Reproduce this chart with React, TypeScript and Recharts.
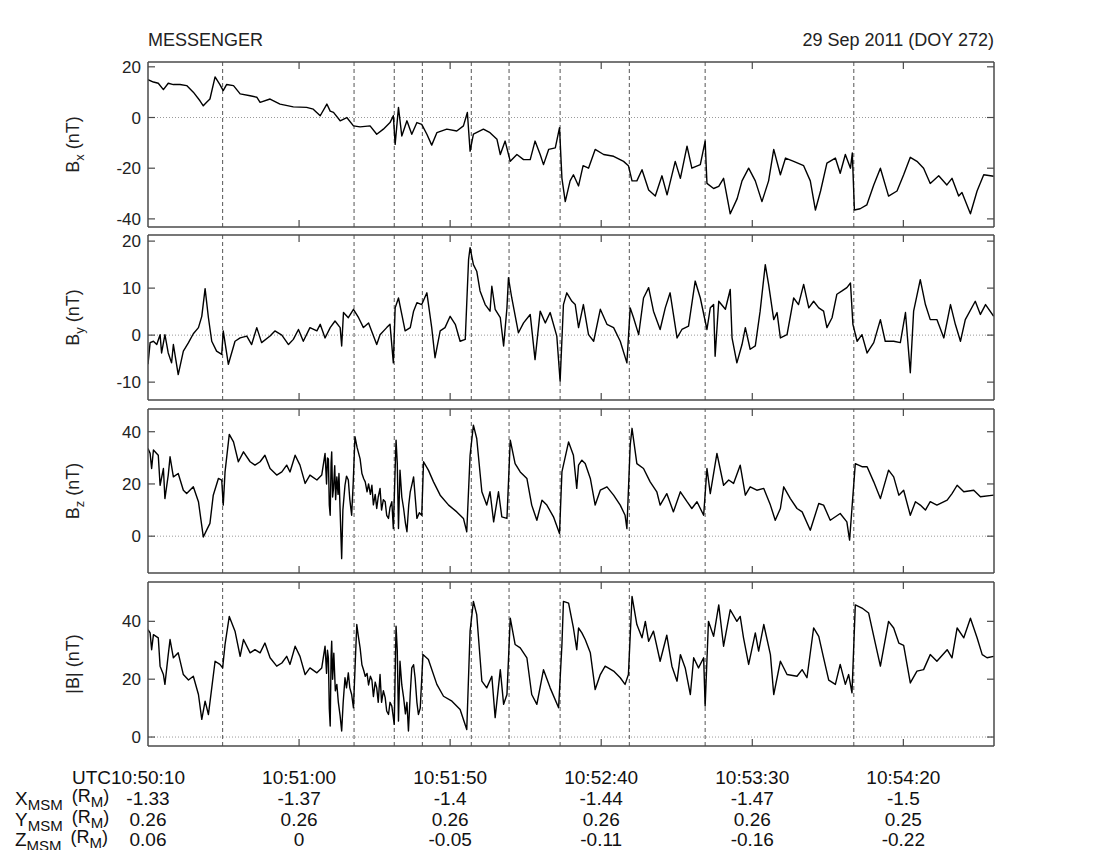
import React from 'react';
import { LineChart, Line, XAxis, YAxis, ReferenceLine } from 'recharts';

// [seconds after 10:50:10 UTC, nT]
const bxSamples = [
  [0, 14.9], [1.8, 14], [3.4, 13.5], [5.1, 11], [6.7, 13.5], [8.4, 13], [10.6, 13], [12.8, 12.6], [15.0, 10], [17.2, 6.6],
  [18.3, 4.6], [19.4, 6], [20.5, 7.3], [22.2, 16], [23.8, 13], [24.9, 10.6], [26.0, 13], [28.3, 12.6], [30.5, 9.3], [33.8, 8.6],
  [36.0, 8], [37.1, 6], [40.4, 7.3], [43.7, 5.3], [48.1, 4.2], [52.5, 4], [54.7, 3.3], [57.0, 0.7], [59.2, 5.3], [60.3, 2.5],
  [61.4, 2], [63.6, -1.3], [65.8, 0], [68.0, -3.3], [70.2, -3.7], [73.5, -3.3], [75.7, -6.6], [77.9, -4.6], [80.1, -2], [81.2, 0.7],
  [81.8, -10.6], [82.9, 4], [84.0, -7.3], [85.7, -1.3], [87.3, -6.6], [89.0, -2], [90.6, -2.7], [92.3, -6.6], [93.9, -10.9], [95.6, -6],
  [98.9, -4.6], [102.2, -5.3], [104.4, -3.3], [105.7, 2], [106.6, -13.3], [107.7, -6.6], [111.0, -4.6], [113.2, -6], [115.5, -8.6], [116.6, -14.6],
  [118.2, -9.3], [119.9, -17.3], [122.1, -14.6], [124.3, -16.6], [126.5, -16.6], [128.1, -9.3], [129.8, -14.6], [130.9, -18.6], [132.6, -12.6], [134.8, -12],
  [136.2, -4], [137.0, -24], [138.1, -33.2], [139.7, -25], [140.8, -22.6], [142.5, -27], [144.0, -19], [145.8, -20], [148.0, -12.6], [150.8, -14.6],
  [154.1, -15.3], [157.4, -17.3], [159.0, -19], [160.2, -25], [161.8, -25], [163.5, -20.6], [165.7, -28.6], [167.9, -31], [170.1, -23], [171.8, -30.5],
  [174.5, -17.3], [176.2, -24], [178.4, -11.3], [180.0, -20], [182.8, -18.6], [184.4, -9.3], [185.0, -26], [187.2, -28], [188.9, -27.2], [190.5, -24],
  [192.7, -38], [195.0, -32], [196.6, -25], [198.8, -20], [201.0, -25], [203.2, -33.2], [205.4, -25], [207.1, -12.6], [209.3, -22.6], [211.0, -16],
  [213.7, -17.3], [217.0, -19], [219.2, -25], [220.9, -36.5], [222.6, -29], [224.7, -18], [227.5, -16], [229.1, -22], [230.8, -14.6], [232.5, -20],
  [233.1, -14], [233.8, -36.5], [235.7, -36], [237.9, -34.5], [240.2, -26.6], [242.4, -20], [245.1, -31], [247.9, -29], [250.1, -22.6], [252.3, -15.7],
  [254.5, -17.3], [256.7, -20], [258.9, -26], [261.7, -23], [264.4, -26.6], [266.1, -24], [268.3, -31], [269.4, -29.6], [272.2, -38], [274.4, -29],
  [276.6, -22.6], [279.9, -23.2],
];

const bySamples = [
  [0, -6.2], [0.7, -1.6], [1.8, -1.3], [2.9, -2], [4.0, 0.1], [4.5, -3.8], [5.6, 0.1], [6.7, -3.8], [7.8, -5.9], [8.4, -2],
  [10.0, -8.4], [11.7, -3.4], [13.4, -1.6], [15.0, 0.3], [16.7, 1.6], [17.8, 4], [18.9, 9.9], [20.0, 3.7], [21.1, -1.3], [22.7, -3.4],
  [24.4, -4.1], [24.9, 0.9], [26.6, -6.2], [28.8, -1.3], [30.5, -0.6], [32.7, -0.2], [34.3, -2], [36.0, 1.6], [37.6, -1.6], [40.4, -0.2],
  [42.0, 0.9], [44.3, 0], [46.5, -2], [48.1, -0.9], [49.8, 1.2], [51.4, -1.3], [53.6, 1.6], [55.9, 0.9], [57.0, 2.3], [58.6, -0.6],
  [60.3, 1.6], [61.9, 3], [63.6, 1.6], [64.1, -2.3], [64.7, 4.8], [66.3, 3.7], [68.0, 5.5], [69.7, 3.7], [71.3, 1.6], [73.0, 2.6],
  [75.7, -2], [76.8, 0.1], [79.0, 1.6], [80.1, 2.3], [81.2, -5.9], [81.8, 5.8], [82.9, 7.9], [84.0, 4.4], [85.1, 0.9], [86.8, 1.6],
  [87.9, 5.1], [89.0, 6.9], [90.6, 6.5], [92.3, 9], [93.9, 1.6], [95.0, -4.8], [96.7, 0.9], [98.3, 1.6], [100.0, 4], [101.7, 2.3],
  [103.3, -1.3], [105.0, -0.9], [106.1, 16.1], [106.6, 18.6], [107.7, 15], [108.8, 13.6], [109.9, 9.4], [111.6, 6.5], [113.2, 5.1], [113.8, 10.4],
  [114.9, 5.5], [116.6, 3.7], [117.7, -2.3], [118.8, 5.8], [119.3, 12.2], [120.4, 7.9], [122.6, 0.5], [124.3, 2.6], [126.5, 4.4], [128.1, -5.2],
  [129.8, 5.1], [131.5, 2.6], [133.1, 4.8], [135.3, -0.2], [136.4, -9.8], [137.5, 6.5], [138.6, 9], [140.3, 7.2], [141.4, 6.5], [142.5, 1.6],
  [144.1, 6.5], [145.8, 0.1], [147.5, -1.3], [149.7, 5.5], [151.9, 2.3], [154.1, 1.6], [156.3, -1.3], [158.5, -5.9], [159.6, 5.8], [160.7, 3.7],
  [162.4, 0.1], [164.0, 7.9], [165.7, 10.1], [167.3, 5.1], [169.5, 1.2], [171.2, 5.8], [172.8, 9], [175.1, -0.6], [176.7, 1.2], [178.9, 1.9],
  [181.1, 11.5], [182.8, 7.9], [185.0, 1.2], [186.1, 5.8], [187.2, 6.5], [187.7, -4.5], [188.9, 7.2], [191.1, 5.5], [192.7, 9.7], [193.3, -0.6],
  [194.9, -5.9], [196.6, -2], [197.7, 1.6], [199.3, -3], [201.0, -2.3], [202.6, 5.1], [204.3, 15], [205.4, 10.8], [207.1, 3.3], [208.2, 4.8],
  [209.3, -0.6], [211.5, 0.1], [212.6, 4], [213.7, 7.9], [215.3, 6.5], [217.0, 10.8], [218.7, 5.8], [220.3, 7.2], [222.0, 5.8], [223.6, 5.1],
  [224.7, 1.6], [226.4, 3.7], [228.0, 8.7], [229.7, 9.4], [231.3, 10.1], [232.5, 11.1], [233.3, 2.3], [234.7, -1.3], [236.3, 0.1], [238.0, -3.8],
  [240.2, -1.6], [242.4, 3.3], [244.0, -1.3], [246.8, -1.3], [249.0, -1.6], [250.7, 4.8], [252.3, -8], [253.4, 5.1], [255.6, 11.8], [257.3, 6.5],
  [258.9, 3.3], [261.1, 3.3], [263.4, -0.6], [265.6, 6.5], [267.2, 2.3], [268.9, -1.3], [270.5, 3.3], [273.8, 7.2], [275.5, 4.4], [277.2, 6.5],
  [279.9, 4],
];

const bzSamples = [
  [0, 33.6], [0.7, 31.7], [1.2, 25.9], [1.8, 33], [3.4, 31], [4.0, 19.5], [5.1, 25.9], [5.6, 14.4], [6.7, 23.4], [7.3, 30.4],
  [8.4, 22.7], [10.0, 24], [11.7, 17.6], [12.8, 16.3], [15.0, 18.9], [16.7, 13.2], [18.3, -0.3], [19.4, 2.3], [20.5, 4.9], [21.6, 15.7],
  [23.3, 22.1], [24.4, 21.5], [24.9, 11.9], [25.5, 24.6], [26.9, 39], [28.3, 36.1], [29.9, 28.5], [31.6, 32.3], [33.8, 28.5], [35.4, 27.2],
  [37.1, 28.5], [38.7, 31], [40.4, 25.9], [42.6, 23.4], [44.3, 24.6], [45.9, 27.2], [47.0, 24.6], [48.7, 31], [50.3, 27.2], [52.0, 20.2],
  [53.6, 23.4], [55.9, 21.5], [57.5, 23.4], [58.6, 31.7], [59.1, 20], [59.4, 30], [59.7, 29.6], [60.0, 12], [60.3, 8], [60.6, 28],
  [60.8, 32.3], [61.1, 15], [61.4, 18.3], [61.8, 27], [62.1, 14], [62.5, 22.7], [62.9, 16], [63.2, 24], [63.6, 9.3], [64.1, -8.6],
  [64.5, 10], [65.2, 19.5], [65.7, 23], [66.3, 21.5], [66.8, 14], [67.4, 8], [67.9, 20], [68.5, 38.1], [69.2, 34], [70.2, 29.6],
  [70.8, 24], [71.4, 22], [71.9, 20.8], [72.5, 17], [73.0, 20], [73.6, 16], [74.1, 19.5], [74.6, 12], [75.2, 16], [75.7, 10.6],
  [76.2, 15], [76.8, 18.3], [77.3, 10], [77.9, 14], [78.5, 13.2], [79.0, 8], [79.6, 6.8], [80.1, 11], [80.7, 13.2], [81.2, 2.9],
  [82.1, 36.8], [82.5, 28], [82.9, 2.9], [83.4, 25.3], [84.0, 15], [84.6, 10.6], [85.2, 5], [85.7, 1.7], [86.3, 12], [86.8, 17],
  [87.4, 20], [87.9, 22.7], [88.5, 14], [89.0, 6.8], [89.8, 9], [90.6, 8], [91.2, 28.5], [92.8, 25.3], [94.5, 20.8], [96.7, 15.7],
  [99.5, 11.9], [102.2, 9.3], [104.4, 6.8], [105.5, 1.7], [106.6, 31], [107.7, 42.5], [108.8, 37.4], [110.5, 17], [112.1, 11.9], [113.2, 17],
  [114.4, 5.5], [116.0, 17], [117.1, 7.4], [118.8, 6.8], [119.9, 36.8], [121.5, 27.8], [123.2, 24.6], [125.4, 22.1], [127.0, 11.9], [128.7, 6.1],
  [130.4, 13.8], [132.0, 11.9], [134.2, 7.4], [136.2, 1], [137.0, 24.6], [139.2, 36.1], [140.8, 31], [141.9, 18.3], [142.5, 27.2], [143.6, 29.1],
  [144.7, 27.8], [146.4, 22.1], [148.0, 11.9], [149.7, 17.6], [151.9, 18.9], [154.1, 15.7], [156.3, 11.9], [157.9, 8], [158.5, 2.9], [159.6, 34.9],
  [160.2, 41.3], [161.8, 27.8], [164.0, 25.9], [166.2, 20.8], [168.4, 17], [169.5, 11.9], [171.7, 16.3], [173.9, 9.3], [176.2, 17], [178.4, 13.2],
  [180.0, 10.6], [181.7, 13.2], [183.9, 8], [185.0, 25.9], [186.1, 16.3], [188.3, 31.7], [190.5, 19.5], [192.2, 21.5], [193.8, 20.2], [196.0, 27.2],
  [197.7, 15.7], [199.3, 18.9], [201.5, 17.6], [203.8, 18.3], [206.0, 11.9], [207.6, 6.1], [209.3, 10.6], [210.4, 18.9], [212.6, 14.4], [214.8, 10.6],
  [216.5, 9.3], [219.2, 2.3], [222.0, 12.5], [223.6, 11.9], [225.8, 6.1], [229.1, 8.7], [231.3, 5.5], [232.2, -1.5], [234.1, 27.8], [236.3, 26.6],
  [238.0, 26.6], [240.2, 20.8], [242.4, 14.4], [245.1, 25.3], [246.8, 22.7], [248.5, 15.7], [250.1, 17.6], [252.3, 8], [254.0, 13.2], [255.6, 11.9],
  [257.3, 10], [258.9, 13.2], [261.1, 11.9], [264.5, 13.8], [266.1, 16.3], [267.8, 19.5], [270.0, 17], [273.3, 17.6], [275.5, 15.1], [279.9, 15.7],
];

const bmagSamples = [
  [0, 37.1], [0.7, 36], [1.2, 30.2], [1.8, 35.4], [3.4, 34.3], [4.0, 24.5], [5.1, 21.6], [5.6, 18.2], [6.7, 28.5], [7.3, 33.7],
  [8.4, 27.4], [10.0, 29.1], [11.7, 21.6], [13.4, 19.7], [15.0, 21], [16.7, 14.7], [17.8, 6.1], [18.9, 12.4], [20.0, 7.8], [21.1, 17],
  [22.2, 26.2], [23.8, 25.1], [24.7, 23.9], [25.5, 32], [26.9, 41.7], [28.8, 36.6], [30.5, 27.9], [31.6, 33.7], [33.8, 29.1], [35.4, 30.2],
  [37.1, 29.1], [38.7, 32.5], [40.4, 27.4], [42.6, 24.5], [44.3, 25.6], [45.9, 27.9], [47.0, 25.1], [48.7, 31.4], [50.3, 27.9], [52.0, 21.6],
  [53.6, 23.9], [55.9, 22.2], [57.5, 23.9], [58.6, 31.4], [59.1, 22], [59.4, 30], [59.7, 27.4], [60.0, 10], [60.3, 3.8], [60.6, 28],
  [60.8, 33.1], [61.1, 20], [61.5, 29], [62.0, 16], [62.5, 18.2], [63.0, 12], [63.6, 7.2], [64.1, 2.1], [64.6, 12], [65.2, 20.5],
  [65.7, 17], [66.3, 22.2], [66.8, 17], [67.4, 14.7], [68.0, 10.1], [69.1, 38.9], [69.6, 35], [70.2, 30.8], [70.8, 25], [71.4, 23],
  [71.9, 21], [72.5, 22], [73.0, 18], [73.6, 21], [74.1, 19.7], [74.6, 14], [75.2, 19], [75.7, 17], [76.2, 12], [76.8, 21.6],
  [77.3, 12], [77.9, 16], [78.5, 13.6], [79.0, 9], [79.6, 7.8], [80.1, 12], [80.7, 10.7], [81.5, 4.4], [82.1, 38.3], [82.5, 30],
  [82.9, 5.5], [83.4, 26.2], [84.0, 18], [84.6, 13.6], [85.2, 8], [85.7, 12], [86.2, 2.1], [86.8, 15], [87.3, 23.9], [87.9, 25],
  [88.4, 20.5], [89.0, 12], [89.5, 7.8], [90.1, 10], [91.0, 28.5], [92.8, 26.8], [95.6, 18.2], [97.8, 14.1], [100.6, 12.4], [103.3, 9.5],
  [105.5, 2.6], [106.6, 36.6], [107.7, 46.9], [108.8, 42.3], [110.5, 19.3], [112.1, 17], [113.8, 21], [114.9, 6.7], [116.6, 23.3], [117.7, 11.3],
  [118.8, 14.7], [119.9, 41.1], [121.5, 32], [123.2, 30.8], [125.4, 27.4], [127.0, 14.7], [128.7, 11.3], [130.9, 23.3], [133.1, 17], [135.9, 10.1],
  [137.0, 32], [137.5, 46.9], [139.2, 46.3], [140.8, 37.7], [141.9, 30.2], [142.5, 37.7], [143.6, 36], [144.7, 33.7], [146.4, 29.1], [148.0, 16.4],
  [149.7, 21.6], [151.3, 24.5], [154.1, 22.8], [156.3, 20.5], [157.9, 18.2], [159.0, 21.6], [160.2, 48.6], [161.8, 38.9], [163.5, 34.3], [164.6, 40],
  [165.7, 33.1], [167.3, 36.6], [169.5, 26.2], [171.7, 35.2], [173.4, 24.5], [175.1, 19.3], [176.2, 28.5], [177.8, 23.9], [179.5, 14.7], [180.6, 27.4],
  [182.2, 23.9], [183.9, 27.4], [184.4, 10.7], [185.5, 40], [187.2, 34.8], [188.9, 45.7], [190.5, 31.4], [192.7, 44], [194.9, 40], [196.0, 41.7],
  [197.1, 34.3], [198.8, 25.1], [201.0, 36], [202.1, 29.7], [203.8, 38.9], [206.0, 28.5], [207.1, 14.7], [209.3, 26.2], [211.5, 21.6], [214.8, 21],
  [216.5, 23.3], [218.1, 20.5], [220.3, 37.7], [222.0, 34.8], [223.6, 27.4], [225.3, 19.7], [227.5, 18.2], [229.1, 25.1], [230.8, 18.2], [231.9, 21.6],
  [233.0, 15.3], [234.1, 45.7], [236.3, 44.6], [238.5, 42.9], [240.7, 32.5], [242.4, 24.5], [245.1, 40], [246.8, 37.7], [248.5, 32.5], [250.1, 31.7],
  [252.3, 18.7], [254.5, 22.8], [256.7, 23.3], [258.9, 28.5], [261.1, 26.2], [264.5, 30.2], [266.1, 27.4], [267.8, 37.7], [270.0, 34.3], [272.2, 41.1],
  [274.4, 34.3], [276.1, 28.5], [277.7, 27.4], [279.9, 27.9],
];

// boundary crossings marked on every panel (s after 10:50:10)
const boundaryTimes = [24.7, 68.2, 81.5, 90.8, 107.0, 119.5, 136.4, 159.3, 184.4, 233.6];

const tickTimes = [0, 50, 100, 150, 200, 250];
const utcLabels = ['10:50:10', '10:51:00', '10:51:50', '10:52:40', '10:53:30', '10:54:20'];
const xMsm = ['-1.33', '-1.37', '-1.4', '-1.44', '-1.47', '-1.5'];
const yMsm = ['0.26', '0.26', '0.26', '0.26', '0.26', '0.25'];
const zMsm = ['0.06', '0', '-0.05', '-0.11', '-0.16', '-0.22'];

const W = 1118;
const T_END = 280;
const PLOT_LEFT = 148;
const PLOT_RIGHT = 994;
const FONT = '"Liberation Sans", Arial, Helvetica, sans-serif';
const FRAME = '#4a4a4a';
const frameLine = { stroke: FRAME, strokeWidth: 1.5 };

const toRows = (s: number[][]) => s.map(([t, v]) => ({ t, v }));

const LeftTick = (p: any) => (
  <g>
    <line x1={p.x} y1={p.y} x2={p.x + 7} y2={p.y} stroke={FRAME} strokeWidth={1.2} />
    <text x={p.x - 7} y={p.y} dy="0.36em" textAnchor="end" fontSize={17} fontFamily={FONT} fill="#222">
      {p.payload.value}
    </text>
  </g>
);

const RightTick = (p: any) => (
  <line x1={p.x} y1={p.y} x2={p.x - 7} y2={p.y} stroke={FRAME} strokeWidth={1.2} />
);

const TopTick = (p: any) => (
  <line x1={p.x} y1={p.y} x2={p.x} y2={p.y + 7} stroke={FRAME} strokeWidth={1.2} />
);

const BottomTick = (p: any) => (
  <line x1={p.x} y1={p.y} x2={p.x} y2={p.y - 7} stroke={FRAME} strokeWidth={1.2} />
);

// bottom axis of the last panel carries the UTC / MSM position table
const TableTick = (p: any) => {
  const i = p.index;
  const rows = [utcLabels[i], xMsm[i], yMsm[i], zMsm[i]];
  const base = [38, 59, 80, 100];
  return (
    <g fontFamily={FONT} fill="#111">
      {i > 0 && <line x1={p.x} y1={p.y} x2={p.x} y2={p.y - 7} stroke={FRAME} strokeWidth={1.2} />}
      {rows.map((r, k) => (
        <text key={k} x={p.x} y={p.y + base[k]} textAnchor="middle" fontSize={19}>{r}</text>
      ))}
      {i === 0 && (
        <g>
          <text x={p.x - 37} y={p.y + base[0]} textAnchor="end" fontSize={19}>UTC</text>
          {['X', 'Y', 'Z'].map((c, k) => (
            <text key={c} x={15} y={p.y + base[k + 1]} fontSize={19}>
              {c}
              <tspan dy={5} fontSize={15}>MSM</tspan>
              <tspan dx={9} dy={-8} fontSize={18}>(R</tspan>
              <tspan dy={5} fontSize={15}>M</tspan>
              <tspan dy={-5} fontSize={18}>)</tspan>
            </text>
          ))}
        </g>
      )}
    </g>
  );
};

const axisLabel = (main: string, sub?: string) => (p: any) => {
  const vb = p.viewBox;
  const cx = vb.x - 15;
  const cy = vb.y + vb.height / 2;
  return (
    <text
      transform={`translate(${cx},${cy}) rotate(-90)`}
      x={0}
      y={6}
      textAnchor="middle"
      fontSize={18}
      fontFamily={FONT}
      fill="#222"
    >
      {main}
      {sub && <tspan dy={5} fontSize={13}>{sub}</tspan>}
      <tspan dy={sub ? -5 : 0}> (nT)</tspan>
    </text>
  );
};

const titleLabel = (p: any) => {
  const vb = p.viewBox;
  return (
    <g fontFamily={FONT} fontSize={18} fill="#222">
      <text x={vb.x} y={vb.y - 15}>MESSENGER</text>
      <text x={vb.x + vb.width} y={vb.y - 15} textAnchor="end">29 Sep 2011 (DOY 272)</text>
    </g>
  );
};

type PanelProps = {
  samples: number[][];
  plotTop: number;
  plotBottom: number;
  padTop: number;
  padBottom: number;
  domain: [number, number];
  ticks: number[];
  label: (p: any) => React.ReactElement;
  title?: boolean;
  table?: boolean;
};

function Panel({ samples, plotTop, plotBottom, padTop, padBottom, domain, ticks, label, title, table }: PanelProps) {
  const height = plotBottom - plotTop + padTop + padBottom;
  return (
    <div style={{ position: 'absolute', left: 0, top: plotTop - padTop }}>
      <LineChart
        width={W}
        height={height}
        data={toRows(samples)}
        margin={{ top: padTop - 1, bottom: padBottom - 1, left: PLOT_LEFT - 60, right: W - PLOT_RIGHT - 1 }}
      >
        <XAxis
          xAxisId="b"
          dataKey="t"
          type="number"
          domain={[0, T_END]}
          allowDataOverflow
          ticks={table ? tickTimes : tickTimes.slice(1)}
          interval={0}
          height={1}
          tickSize={0}
          tickMargin={0}
          tickLine={false}
          axisLine={frameLine}
          tick={table ? TableTick : BottomTick}
        />
        <XAxis
          xAxisId="t"
          orientation="top"
          dataKey="t"
          type="number"
          domain={[0, T_END]}
          allowDataOverflow
          ticks={tickTimes.slice(1)}
          interval={0}
          height={1}
          tickSize={0}
          tickMargin={0}
          tickLine={false}
          axisLine={frameLine}
          tick={TopTick}
          label={title ? titleLabel : undefined}
        />
        <YAxis
          yAxisId="l"
          dataKey="v"
          type="number"
          domain={domain}
          allowDataOverflow
          ticks={ticks}
          interval={0}
          width={60}
          tickSize={0}
          tickMargin={0}
          tickLine={false}
          axisLine={frameLine}
          tick={LeftTick}
          label={label}
        />
        <YAxis
          yAxisId="r"
          orientation="right"
          dataKey="v"
          type="number"
          domain={domain}
          allowDataOverflow
          ticks={ticks}
          interval={0}
          width={1}
          tickSize={0}
          tickMargin={0}
          tickLine={false}
          axisLine={frameLine}
          tick={RightTick}
        />
        <ReferenceLine xAxisId="b" yAxisId="l" y={0} stroke="#9a9a9a" strokeDasharray="1 2" strokeWidth={1} />
        {boundaryTimes.map((t) => (
          <ReferenceLine key={t} xAxisId="b" yAxisId="l" x={t} stroke="#555" strokeDasharray="4 3" strokeWidth={1} />
        ))}
        <Line
          xAxisId="b"
          yAxisId="l"
          type="linear"
          dataKey="v"
          stroke="#000"
          strokeWidth={1.4}
          strokeLinejoin="round"
          dot={false}
          isAnimationActive={false}
        />
      </LineChart>
    </div>
  );
}

export default function App() {
  return (
    <div style={{ position: 'absolute', left: 0, top: 0, width: W, height: 850, background: '#fff', overflow: 'hidden' }}>
      <Panel samples={bxSamples} plotTop={62} plotBottom={227} padTop={50} padBottom={4}
        domain={[-43.2, 21.9]} ticks={[-40, -20, 0, 20]} label={axisLabel('B', 'x')} title />
      <Panel samples={bySamples} plotTop={235} plotBottom={400} padTop={4} padBottom={4}
        domain={[-13.8, 21.3]} ticks={[-10, 0, 10, 20]} label={axisLabel('B', 'y')} />
      <Panel samples={bzSamples} plotTop={409} plotBottom={573} padTop={4} padBottom={4}
        domain={[-14.1, 48.7]} ticks={[0, 20, 40]} label={axisLabel('B', 'z')} />
      <Panel samples={bmagSamples} plotTop={582} plotBottom={746} padTop={4} padBottom={104}
        domain={[-3.1, 53.6]} ticks={[0, 20, 40]} label={axisLabel('|B|')} table />
    </div>
  );
}
